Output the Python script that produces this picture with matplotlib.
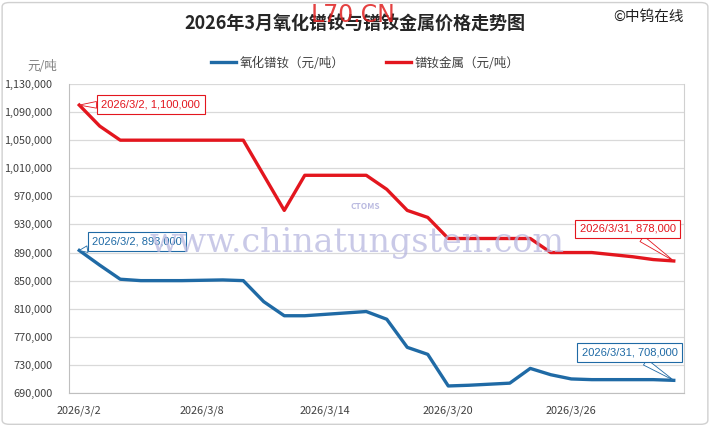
import matplotlib
matplotlib.use("Agg")
import matplotlib.pyplot as plt
from matplotlib.patches import FancyBboxPatch
from matplotlib.ticker import FuncFormatter

plt.rcParams['font.family'] = ['Noto Sans CJK SC', 'DejaVu Sans']

dates = [f"2026/3/{d}" for d in range(2, 32)]
oxide = [893000, 872000, 852000, 850000, 850000, 850000, 850500, 851000, 850000,
         820000, 800000, 800000, 802000, 804000, 806000, 795000, 755000, 745000,
         700000, 701000, 702500, 704000, 725000, 716000, 710000, 709000, 709000,
         709000, 709000, 708000]
metal = [1100000, 1070000, 1050000, 1050000, 1050000, 1050000, 1050000, 1050000, 1050000,
         1000000, 950000, 1000000, 1000000, 1000000, 1000000, 980000, 950000, 940000,
         910000, 910000, 910000, 910000, 910000, 890000, 890000, 890000, 887000,
         884000, 880000, 878000]
yticks = list(range(690000, 1130001, 40000))
xtick_idx = [0, 6, 12, 18, 24]

blue = '#1F6AA5'
red = '#E3161E'

fig = plt.figure(figsize=(7.1, 4.26), dpi=100)
fig.patch.set_facecolor('white')
fig.patches.append(FancyBboxPatch((0.003, 0.004), 0.994, 0.99, boxstyle='round,pad=0,rounding_size=0.01',
                                  transform=fig.transFigure, fill=False, ec='#D0D0D0', lw=1))

ax = fig.add_axes([0.0972, 0.0775, 0.8662, 0.7253])
x = list(range(len(dates)))
ax.plot(x, oxide, color=blue, lw=2.4, label='氧化镨钕（元/吨）', solid_joinstyle='round', zorder=3)
ax.plot(x, metal, color=red, lw=2.4, label='镨钕金属（元/吨）', solid_joinstyle='round', zorder=3)

ax.set_xlim(-0.5, len(dates) - 0.5)
ax.set_ylim(690000, 1130000)
ax.set_yticks(yticks)
ax.yaxis.set_major_formatter(FuncFormatter(lambda v, p: f"{int(v):,}"))
ax.set_xticks(xtick_idx)
ax.set_xticklabels([dates[i] for i in xtick_idx])
ax.tick_params(axis='y', length=0, labelsize=7.8, colors='#404040', pad=12)
ax.tick_params(axis='x', length=0, labelsize=7.8, colors='#404040', pad=9)
ax.grid(axis='y', color='#D9D9D9', lw=0.9)
ax.set_axisbelow(True)
ax.spines['top'].set_visible(False)
ax.spines['right'].set_color('#D0D0D0')
ax.spines['left'].set_color('#BFBFBF')
ax.spines['bottom'].set_color('#BFBFBF')

# watermark
fig.text(0.503, 0.43, 'www.chinatungsten.com', fontsize=24, family='DejaVu Serif',
         color='#B8B8E0', alpha=0.75, ha='center', va='center', zorder=0)
fig.text(0.515, 0.515, 'CTOMS', fontsize=6, style='italic', weight='bold',
         color='#A8A8D8', alpha=0.8, ha='center', va='center')

def callout(i, vals, color, dx, dy, ha):
    ax.annotate(f"{dates[i]}, {vals[i]:,}", xy=(i, vals[i]), xytext=(dx, dy),
                textcoords='offset pixels', ha=ha, va='center', fontsize=8, color=color,
                family=['Liberation Sans', 'DejaVu Sans'],
                bbox=dict(boxstyle='square,pad=0.4', fc='white', ec=color, lw=0.8),
                arrowprops=dict(arrowstyle='wedge,tail_width=0.6', fc='white', ec=color, lw=0.6,
                                shrinkA=0, shrinkB=0), zorder=5)

callout(0, metal, red, 22, 1, 'left')
callout(0, oxide, blue, 13, 9, 'left')
callout(len(dates) - 1, metal, red, 2, 32, 'right')
callout(len(dates) - 1, oxide, blue, 4, 28, 'right')

fig.text(0.5, 0.945, '2026年3月氧化镨钕与镨钕金属价格走势图', ha='center', va='center',
         fontsize=13, weight='bold', color='#262626')
fig.text(0.497, 0.965, 'L70.CN', ha='center', va='center', fontsize=17, color='#E02020', alpha=0.85,
         family='DejaVu Sans')
fig.text(0.913, 0.96, '©中钨在线', ha='center', va='center', fontsize=10.5, color='#202020')
fig.text(0.06, 0.845, '元/吨', ha='center', va='center', fontsize=9, color='#808080')

ax.legend(loc='center', bbox_to_anchor=(0.515, 0.852), bbox_transform=fig.transFigure, ncol=2,
          frameon=False, fontsize=9, handlelength=2.0, columnspacing=3.3, handletextpad=0.3,
          labelcolor='#404040')

fig.savefig('out.png', dpi=100)
